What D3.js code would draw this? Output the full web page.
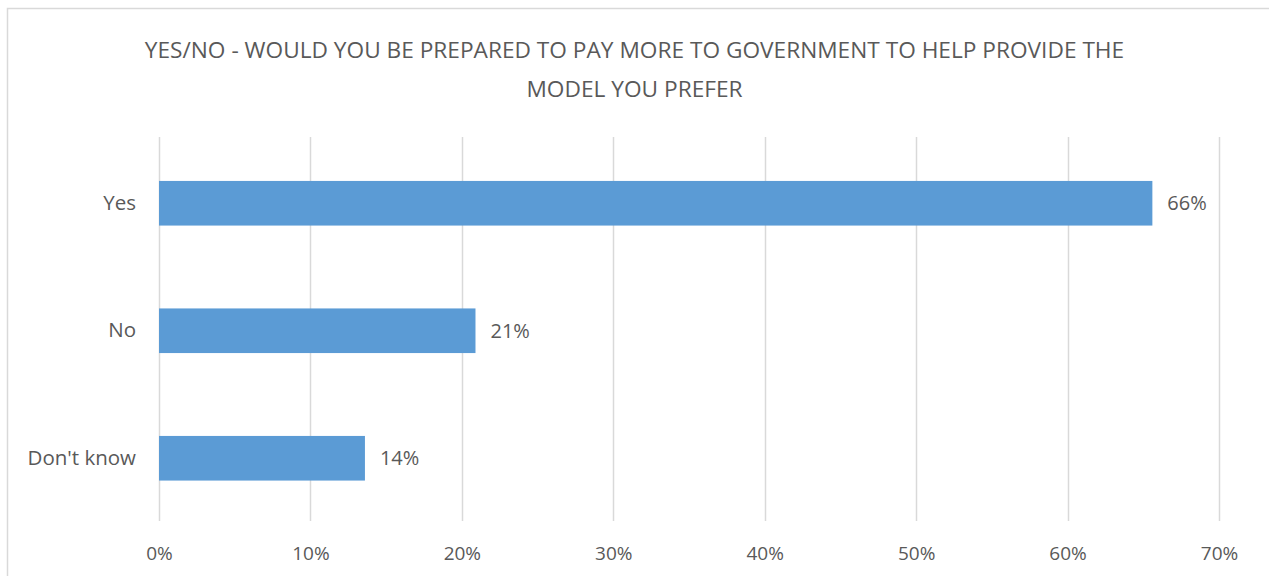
<!DOCTYPE html>
<html>
<head>
<meta charset="utf-8">
<script src="https://cdn.jsdelivr.net/npm/d3@7"></script>
<style>
  html, body { margin: 0; padding: 0; background: #ffffff; }
  svg { display: block; }
  text { font-family: "Open Sans", Lato, "Liberation Sans", sans-serif; fill: #595959; }
</style>
</head>
<body>
<svg id="chart" width="1269" height="576"></svg>
<script>
// Survey answers and share of respondents (percent)
const categories = ["Yes", "No", "Don't know"];
const shares = [65.6, 20.9, 13.6];
const xTicks = [0, 10, 20, 30, 40, 50, 60, 70];
const titleLines = [
  "YES/NO - WOULD YOU BE PREPARED TO PAY MORE TO GOVERNMENT TO HELP PROVIDE THE",
  "MODEL YOU PREFER"
];

const W = 1269, H = 576;
const svg = d3.select("#chart");

// Outer chart frame (extends past the right/bottom edges)
svg.append("rect")
  .attr("x", 7.5).attr("y", 8.5)
  .attr("width", W + 20).attr("height", H + 20)
  .attr("fill", "#ffffff")
  .attr("stroke", "#d9d9d9").attr("stroke-width", 1.5);

const plot = { left: 159, right: 1219, top: 137, bottom: 521 };

const x = d3.scaleLinear().domain([0, 70]).range([plot.left, plot.right]);
const y = d3.scaleBand().domain(categories)
  .range([139.5, 522])
  .paddingInner(0.65).paddingOuter(0.325);

// Title, sized so the first line spans ~980px
const title = svg.append("g");
const tl = title.selectAll("text")
  .data(titleLines)
  .join("text")
  .attr("x", W / 2)
  .attr("y", (d, i) => 58 + i * 39)
  .attr("text-anchor", "middle")
  .attr("font-size", 20)
  .text(d => d);
const w0 = tl.node().getComputedTextLength();
tl.attr("font-size", 20 * 980 / w0);

// Vertical gridlines
svg.append("g").selectAll("line")
  .data(xTicks)
  .join("line")
  .attr("x1", d => Math.round(x(d)) + 0.5)
  .attr("x2", d => Math.round(x(d)) + 0.5)
  .attr("y1", plot.top).attr("y2", plot.bottom)
  .attr("stroke", "#d9d9d9").attr("stroke-width", 1.5);

// X axis tick labels
const xAxis = d3.axisBottom(x).tickValues(xTicks)
  .tickFormat(d => d + "%").tickSize(0).tickPadding(0);
const gx = svg.append("g")
  .attr("transform", `translate(0, ${plot.bottom})`)
  .call(xAxis);
gx.select(".domain").remove();
gx.selectAll("text")
  .attr("dy", null).attr("y", 39)
  .attr("font-size", 19)
  .attr("font-family", null)
  .style("fill", "#595959");

// Category labels
const yAxis = d3.axisLeft(y).tickSize(0).tickPadding(23);
const gy = svg.append("g")
  .attr("transform", `translate(${plot.left}, 0)`)
  .call(yAxis);
gy.select(".domain").remove();
gy.selectAll("text")
  .attr("font-size", 20.5)
  .attr("font-family", null)
  .style("fill", "#595959");

// Bars
const data = categories.map((c, i) => ({ c, v: shares[i] }));
svg.append("g").selectAll("rect")
  .data(data)
  .join("rect")
  .attr("x", x(0))
  .attr("y", d => y(d.c))
  .attr("width", d => x(d.v) - x(0))
  .attr("height", y.bandwidth())
  .attr("fill", "#5b9bd5");

// Value labels
const fmt = d => Math.round(d) + "%";
svg.append("g").selectAll("text")
  .data(data)
  .join("text")
  .attr("x", d => x(d.v) + 15)
  .attr("y", d => y(d.c) + y.bandwidth() / 2)
  .attr("dy", "0.35em")
  .attr("font-size", 20)
  .text(d => fmt(d.v));
</script>
</body>
</html>
